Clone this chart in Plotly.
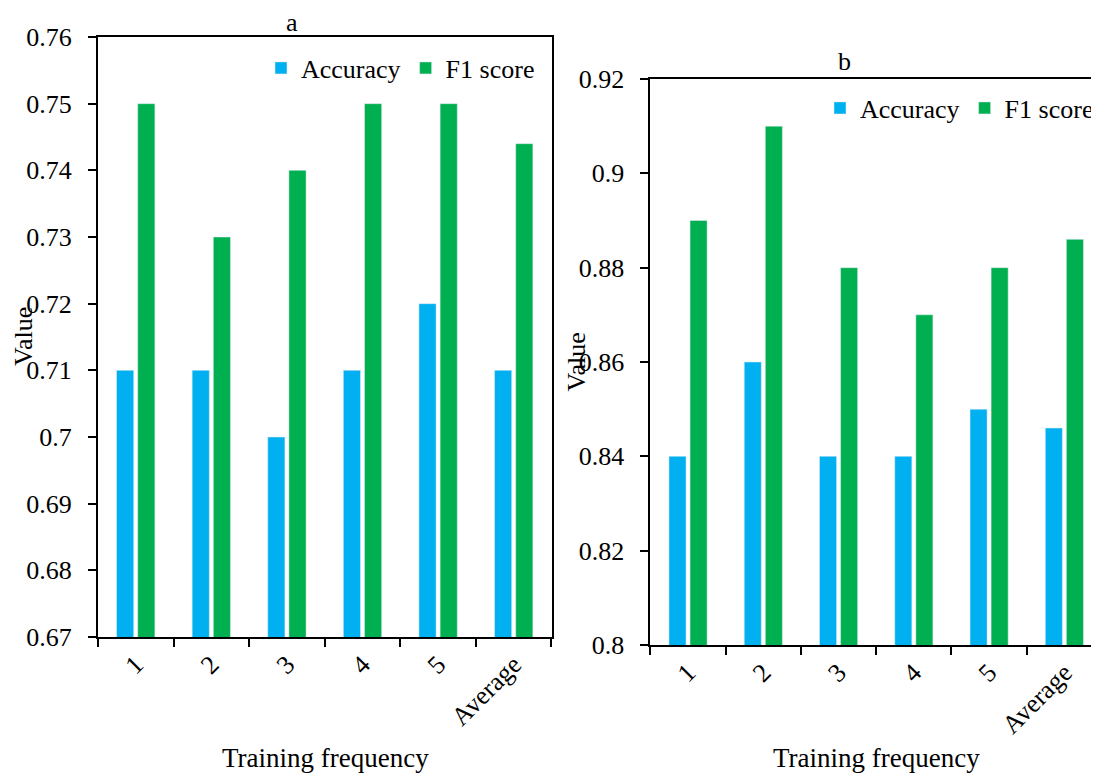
import plotly.graph_objects as go

categories = ["1", "2", "3", "4", "5", "Average"]
acc_a = [0.71, 0.71, 0.70, 0.71, 0.72, 0.71]
f1_a = [0.75, 0.73, 0.74, 0.75, 0.75, 0.744]
acc_b = [0.84, 0.86, 0.84, 0.84, 0.85, 0.846]
f1_b = [0.89, 0.91, 0.88, 0.87, 0.88, 0.886]
yticks_a = [0.67, 0.68, 0.69, 0.70, 0.71, 0.72, 0.73, 0.74, 0.75, 0.76]
yticktext_a = ["0.67", "0.68", "0.69", "0.7", "0.71", "0.72", "0.73", "0.74", "0.75", "0.76"]
yticks_b = [0.80, 0.82, 0.84, 0.86, 0.88, 0.90, 0.92]
yticktext_b = ["0.8", "0.82", "0.84", "0.86", "0.88", "0.9", "0.92"]

BLUE = "#00B0F0"
GREEN = "#00B050"
FONT = "Liberation Serif"
OFF = 8  # page body margin
W, H = 1099 - OFF, 773 - OFF


def px(x):
    return (x - OFF) / W


def py(y):
    return 1 - (y - OFF) / H


def tfont(size=26):
    return dict(family=FONT, size=size, color="black")


fig = go.Figure()
fig.add_trace(go.Bar(x=categories, y=acc_a, name="Accuracy", marker_color=BLUE,
                     xaxis="x", yaxis="y", legend="legend"))
fig.add_trace(go.Bar(x=categories, y=f1_a, name="F1 score", marker_color=GREEN,
                     xaxis="x", yaxis="y", legend="legend"))
fig.add_trace(go.Bar(x=categories, y=acc_b, name="Accuracy", marker_color=BLUE,
                     xaxis="x2", yaxis="y2", legend="legend2"))
fig.add_trace(go.Bar(x=categories, y=f1_b, name="F1 score", marker_color=GREEN,
                     xaxis="x2", yaxis="y2", legend="legend2"))

axis_common = dict(showline=True, linecolor="black", linewidth=2, ticks="outside",
                   ticklen=8, tickwidth=2, tickcolor="black", showgrid=False,
                   zeroline=False, automargin=False, tickfont=tfont())

cat_w = (1103 - 651) / 6.0
fig.update_layout(
    width=W, height=H,
    margin=dict(l=0, r=0, t=0, b=0),
    paper_bgcolor="white", plot_bgcolor="white",
    barmode="group", bargap=0.44, bargroupgap=0.19,
    font=tfont(),
    xaxis=dict(domain=[px(98), px(552)], anchor="y", type="category",
               range=[-0.5, 5.5], tickson="boundaries", tickangle=-45,
               mirror=True, **axis_common),
    yaxis=dict(domain=[py(637), py(37)], anchor="x", range=[0.67, 0.76],
               tickvals=yticks_a, ticktext=yticktext_a, mirror=True,
               ticklabelstandoff=11, **axis_common),
    xaxis2=dict(domain=[px(651), 1.0], anchor="y2", type="category",
                range=[-0.5, -0.5 + (1099 - 651) / cat_w], tickson="boundaries",
                tickangle=-45, mirror=True, **axis_common),
    yaxis2=dict(domain=[py(645), py(79)], anchor="x2", range=[0.80, 0.92],
                tickvals=yticks_b, ticktext=yticktext_b, ticklabelstandoff=11,
                **axis_common),
    legend=dict(orientation="h", x=px(261), y=py(68), xanchor="left", yanchor="middle",
                bgcolor="rgba(0,0,0,0)", font=tfont(), traceorder="normal"),
    legend2=dict(orientation="h", x=px(821), y=py(108), xanchor="left", yanchor="middle",
                 bgcolor="rgba(0,0,0,0)", font=tfont(), traceorder="normal"),
    annotations=[
        dict(text="a", x=px(292), y=py(22), xref="paper", yref="paper",
             xanchor="center", yanchor="middle", showarrow=False, font=tfont()),
        dict(text="b", x=px(845), y=py(62), xref="paper", yref="paper",
             xanchor="center", yanchor="middle", showarrow=False, font=tfont()),
        dict(text="Training frequency", x=px(326), y=py(758), xref="paper", yref="paper",
             xanchor="center", yanchor="middle", showarrow=False, font=tfont(27)),
        dict(text="Training frequency", x=px(877), y=py(758), xref="paper", yref="paper",
             xanchor="center", yanchor="middle", showarrow=False, font=tfont(27)),
        dict(text="Value", x=px(23), y=py(336), xref="paper", yref="paper", textangle=-90,
             xanchor="center", yanchor="middle", showarrow=False, font=tfont()),
        dict(text="Value", x=px(577), y=py(362), xref="paper", yref="paper", textangle=-90,
             xanchor="center", yanchor="middle", showarrow=False, font=tfont()),
    ],
)

fig.write_html("out.html")
